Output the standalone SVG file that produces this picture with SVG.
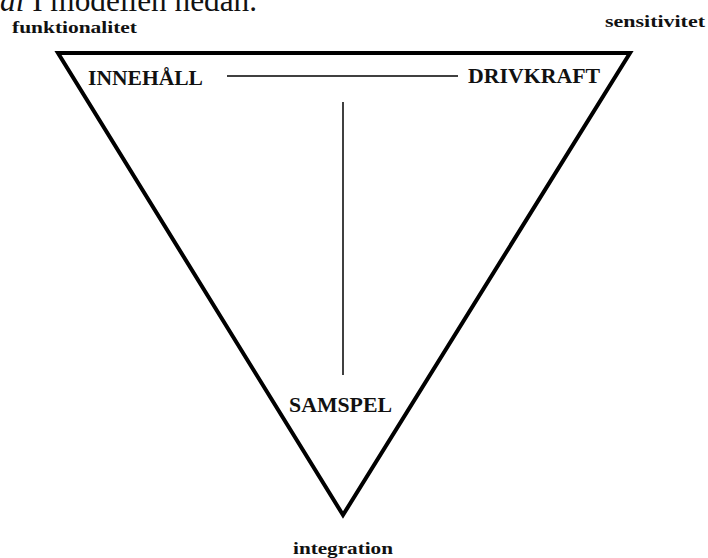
<svg xmlns="http://www.w3.org/2000/svg" width="708" height="558" viewBox="0 0 708 558">
<style>
.lbl{font-family:"Liberation Serif","Times New Roman",serif;font-weight:bold;fill:#111}
.big{font-size:21px}
.small{font-size:17px}
.top{font-family:"Liberation Serif","Times New Roman",serif;font-size:31px;fill:#111}
</style>
<rect width="708" height="558" fill="#fff"/>
<text class="top" x="0" y="11" textLength="257" lengthAdjust="spacingAndGlyphs"><tspan font-style="italic">al</tspan> I modellen nedan.</text>
<g id="triangle">
<polygon points="58,53 630,53 343,515" fill="none" stroke="#000" stroke-width="4" stroke-linejoin="miter"/>
</g>
<g id="connectors" stroke="#000" stroke-width="1.5">
<line x1="227" y1="76" x2="458" y2="76"/>
<line x1="343" y1="102" x2="343" y2="375"/>
</g>
<g id="funktionalitet"><text class="lbl small" x="12" y="33" textLength="125" lengthAdjust="spacingAndGlyphs">funktionalitet</text></g>
<g id="sensitivitet"><text class="lbl small" x="605" y="27" textLength="100" lengthAdjust="spacingAndGlyphs">sensitivitet</text></g>
<g id="integration"><text class="lbl small" x="293" y="554" textLength="100" lengthAdjust="spacingAndGlyphs">integration</text></g>
<g id="innehall"><text class="lbl big" x="88" y="85" textLength="115" lengthAdjust="spacingAndGlyphs">INNEHÅLL</text></g>
<g id="drivkraft"><text class="lbl big" x="468" y="83" textLength="132" lengthAdjust="spacingAndGlyphs">DRIVKRAFT</text></g>
<g id="samspel"><text class="lbl big" x="289" y="412" textLength="103" lengthAdjust="spacingAndGlyphs">SAMSPEL</text></g>
</svg>
